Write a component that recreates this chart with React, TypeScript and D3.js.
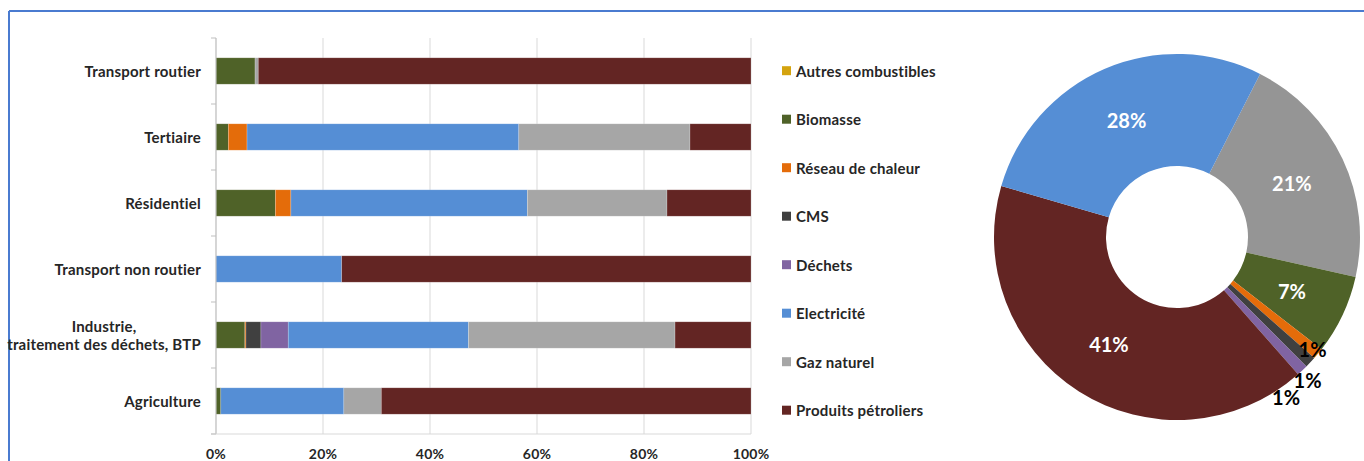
import React from "react";
import * as d3 from "d3";

// Secteurs (ordre d'affichage de haut en bas)
const categories = [
  "Transport routier",
  "Tertiaire",
  "Résidentiel",
  "Transport non routier",
  "Industrie,\ntraitement des déchets, BTP",
  "Agriculture",
];

// Énergies (ordre de la légende et d'empilement)
const energies = [
  "Autres combustibles",
  "Biomasse",
  "Réseau de chaleur",
  "CMS",
  "Déchets",
  "Electricité",
  "Gaz naturel",
  "Produits pétroliers",
];

// Part de chaque énergie par secteur (%), une liste par énergie
const autresCombustibles = [0, 0, 0, 0, 0, 0];
const biomasse = [7.3, 2.3, 11.1, 0, 5.4, 0.9];
const reseauChaleur = [0, 3.5, 2.9, 0, 0.2, 0];
const cms = [0, 0, 0, 0, 2.8, 0];
const dechets = [0, 0, 0, 0, 5.1, 0];
const electricite = [0, 50.8, 44.2, 23.5, 33.7, 23.0];
const gazNaturel = [0.6, 32.0, 26.1, 0, 38.6, 7.0];
const produitsPetroliers = [92.1, 11.4, 15.7, 76.5, 14.2, 69.1];

const seriesValues = [
  autresCombustibles,
  biomasse,
  reseauChaleur,
  cms,
  dechets,
  electricite,
  gazNaturel,
  produitsPetroliers,
];

const barColors = [
  "#D4A30E",
  "#4F6228",
  "#E46C0A",
  "#404040",
  "#8064A2",
  "#558ED5",
  "#A6A6A6",
  "#632523",
];

// Répartition globale (anneau), dans le sens horaire
const pieLabels = [
  "Gaz naturel",
  "Biomasse",
  "Réseau de chaleur",
  "CMS",
  "Déchets",
  "Produits pétroliers",
  "Electricité",
];
const pieShares = [21, 7, 1, 1, 1, 41, 28];
const pieColors = ["#959595", "#4F6228", "#E46C0A", "#404040", "#8064A2", "#632523", "#558ED5"];

const xTicks = [0, 20, 40, 60, 80, 100];

const W = 1364;
const H = 461;
const FONT = "Lato, 'Open Sans', sans-serif";
const TEXT = "#262626";
const LABEL_SIZE = 15;
const LABEL_SPACING = 0.2;

let measureCtx: CanvasRenderingContext2D | null = null;
function textWidth(s: string, font: string, spacing: number) {
  if (!measureCtx) measureCtx = document.createElement("canvas").getContext("2d");
  if (!measureCtx) return s.length * 7;
  measureCtx.font = font;
  return measureCtx.measureText(s).width + s.length * spacing;
}

export default function App() {
  const x = d3.scaleLinear().domain([0, 100]).range([216, 751]);
  const y = d3
    .scaleBand<string>()
    .domain(categories)
    .range([38, 434])
    .paddingInner(0.6)
    .paddingOuter(0.3);

  const rows = categories.map((c, i) => {
    const obj: Record<string, number | string> = { cat: c };
    energies.forEach((e, k) => (obj[e] = seriesValues[k][i]));
    return obj;
  });
  const stacked = d3.stack<any>().keys(energies)(rows);

  const step = y.step();
  const y0 = 38;
  const boundaries = d3.range(categories.length + 1).map((i) => y0 + i * step);

  const labelFont = `bold ${LABEL_SIZE}px ${FONT}`;
  const labelRight = 201;

  // Anneau
  const cx = 1177;
  const cy = 237;
  const outer = 183;
  const inner = 71;
  const start = (27 * Math.PI) / 180;
  const pie = d3
    .pie<number>()
    .sort(null)
    .value((d) => d)
    .startAngle(start)
    .endAngle(start + 2 * Math.PI);
  const arcs = pie(pieShares);
  const arc = d3.arc<d3.PieArcDatum<number>>().innerRadius(inner).outerRadius(outer);

  let smallIdx = 0;

  const legendTop = 70.7;
  const legendStep = 48.5;

  return (
    <svg
      width={W}
      height={H}
      style={{ position: "absolute", left: 0, top: 0, background: "#fff" }}
      fontFamily={FONT}
    >
      <rect x={0} y={0} width={W} height={H} fill="#fff" />
      {/* cadre */}
      <line x1={9} y1={11} x2={W} y2={11} stroke="#4A7BD0" strokeWidth={2} />
      <line x1={9} y1={11} x2={9} y2={H} stroke="#4A7BD0" strokeWidth={2} />

      {/* grille verticale */}
      {xTicks.map((t) => (
        <line key={t} x1={x(t)} x2={x(t)} y1={38} y2={434} stroke="#D9D9D9" strokeWidth={1} />
      ))}

      {/* barres empilées */}
      {stacked.map((s, k) =>
        s.map((d, i) =>
          d[1] - d[0] > 0 ? (
            <rect
              key={`${k}-${i}`}
              x={x(d[0])}
              y={y(categories[i])}
              width={x(d[1]) - x(d[0])}
              height={y.bandwidth()}
              fill={barColors[k]}
              stroke="#ffffff"
              strokeOpacity={0.35}
              strokeWidth={0.6}
            />
          ) : null
        )
      )}

      {/* axes */}
      <line x1={216} x2={216} y1={38} y2={434} stroke="#BFBFBF" strokeWidth={1} />
      <line x1={211} x2={751} y1={434} y2={434} stroke="#D9D9D9" strokeWidth={1} />
      {boundaries.map((b, i) => (
        <line key={i} x1={211} x2={216} y1={b} y2={b} stroke="#BFBFBF" strokeWidth={1} />
      ))}

      {/* étiquettes de l'axe horizontal */}
      {xTicks.map((t) => (
        <text
          key={t}
          x={x(t)}
          y={453}
          textAnchor="middle"
          dominantBaseline="central"
          fontSize={14}
          fontWeight="bold"
          letterSpacing={LABEL_SPACING}
          fill={TEXT}
        >
          {`${t}%`}
        </text>
      ))}

      {/* étiquettes des secteurs */}
      {categories.map((c) => {
        const lines = c.split("\n");
        const cyc = (y(c) as number) + y.bandwidth() / 2;
        const maxW = Math.max(...lines.map((l) => textWidth(l, labelFont, LABEL_SPACING)));
        const lh = 18;
        return lines.map((l, j) => {
          const ly = cyc + (j - (lines.length - 1) / 2) * lh;
          const multi = lines.length > 1;
          return (
            <text
              key={c + j}
              x={multi ? labelRight - maxW / 2 : labelRight}
              y={ly}
              textAnchor={multi ? "middle" : "end"}
              dominantBaseline="central"
              fontSize={LABEL_SIZE}
              fontWeight="bold"
              letterSpacing={LABEL_SPACING}
              fill={TEXT}
            >
              {l}
            </text>
          );
        });
      })}

      {/* légende */}
      {energies.map((e, k) => {
        const ly = legendTop + k * legendStep;
        return (
          <g key={e}>
            <rect x={782} y={ly - 4.5} width={9} height={9} fill={barColors[k]} />
            <text
              x={796}
              y={ly}
              dominantBaseline="central"
              fontSize={LABEL_SIZE}
              fontWeight="bold"
              letterSpacing={LABEL_SPACING}
              fill={TEXT}
            >
              {e}
            </text>
          </g>
        );
      })}

      {/* anneau */}
      <g transform={`translate(${cx},${cy})`}>
        {arcs.map((a, i) => (
          <path key={pieLabels[i]} d={arc(a) as string} fill={pieColors[i]} />
        ))}
        {arcs.map((a, i) => {
          const v = pieShares[i];
          if (v >= 3) {
            const [lx, ly] = arc.centroid(a);
            return (
              <text
                key={"l" + i}
                x={lx}
                y={ly}
                textAnchor="middle"
                dominantBaseline="central"
                fontSize={20}
                fontWeight="bold"
                fill="#ffffff"
              >
                {`${v}%`}
              </text>
            );
          }
          const k = smallIdx++;
          const mid = (a.startAngle + a.endAngle) / 2 + (k * 4.5 * Math.PI) / 180;
          const r = outer - 7 + Math.min(k, 1) * 18;
          return (
            <text
              key={"l" + i}
              x={r * Math.sin(mid)}
              y={-r * Math.cos(mid)}
              textAnchor="middle"
              dominantBaseline="central"
              fontSize={20}
              fontWeight="bold"
              fill="#000000"
            >
              {`${v}%`}
            </text>
          );
        })}
      </g>
    </svg>
  );
}
